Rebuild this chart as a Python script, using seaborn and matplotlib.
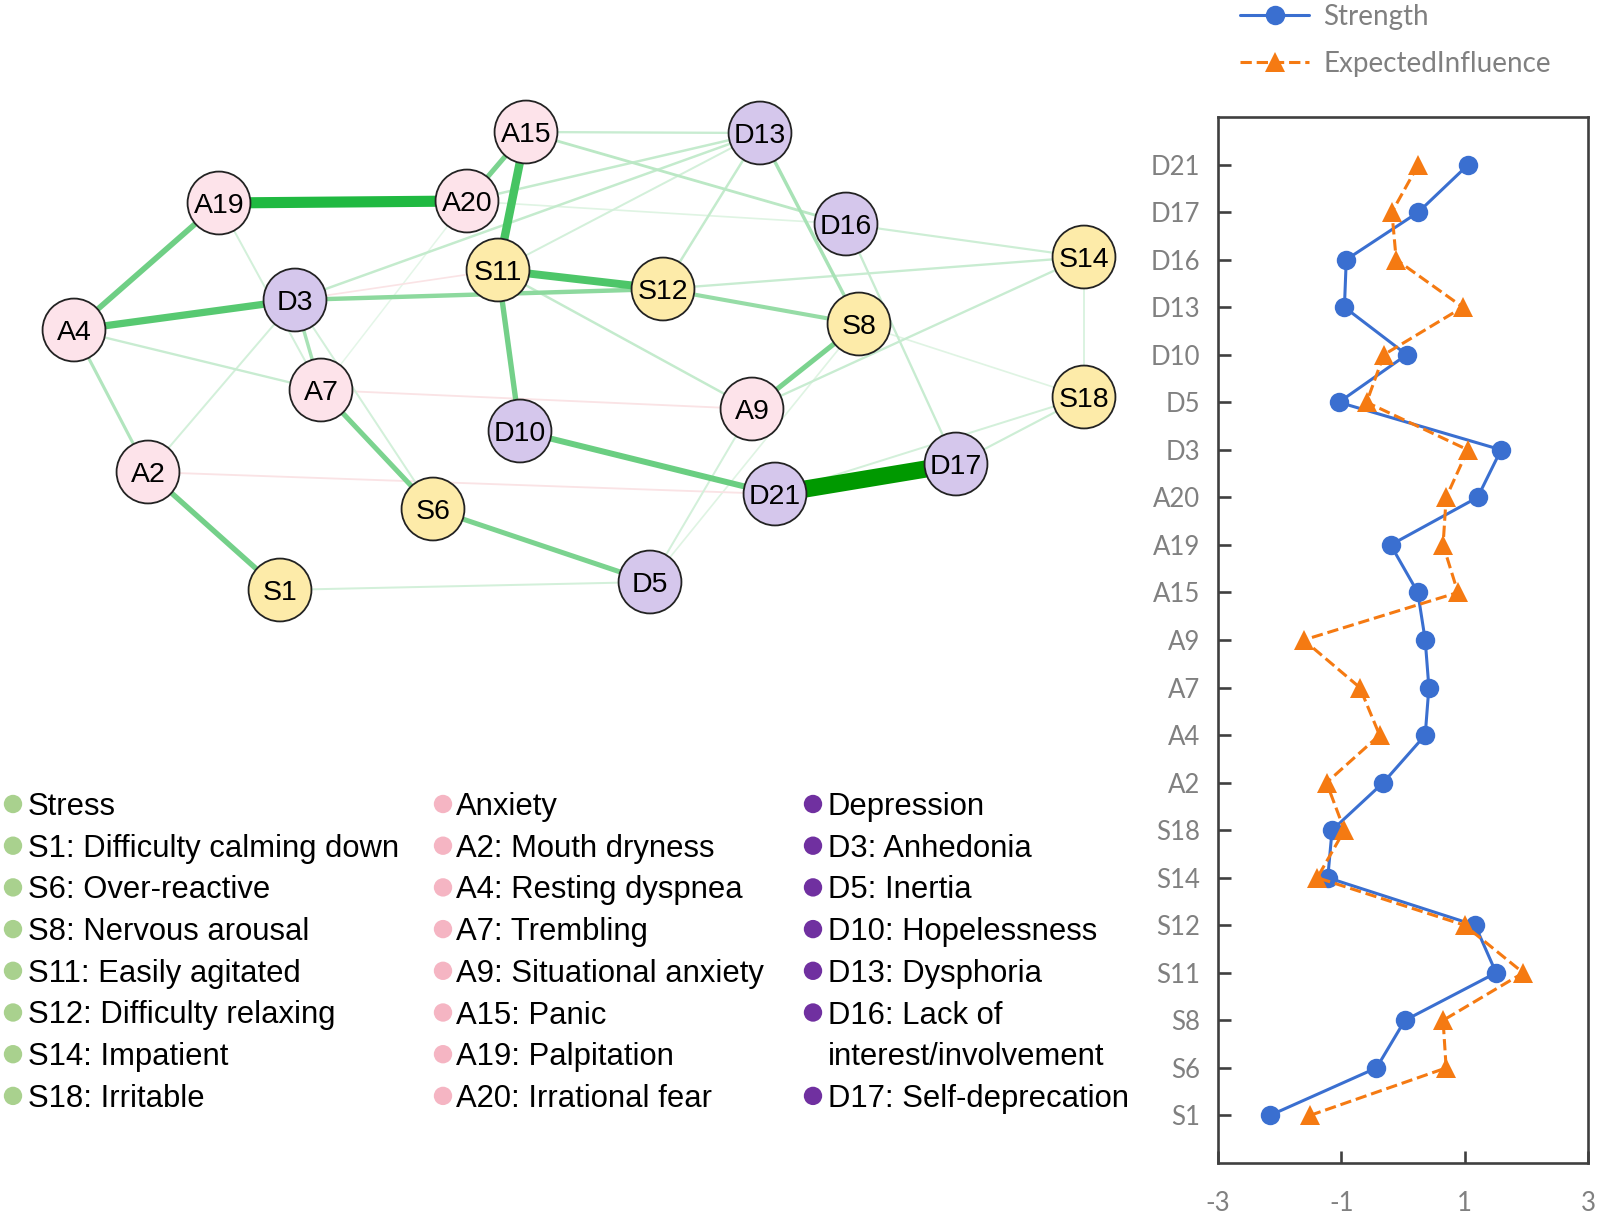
import numpy as np
import pandas as pd
import matplotlib
matplotlib.use("Agg")
import matplotlib.pyplot as plt
import seaborn as sns
from matplotlib.colors import to_rgb

sns.set_theme(style="white")
plt.rcParams['font.family'] = ['Liberation Sans', 'DejaVu Sans']

# ---------------- network data ----------------
node_names = ["A15", "D13", "A19", "A20", "D16", "S11", "S12", "S14", "D3", "A4", "S8",
              "A7", "A9", "S18", "D10", "A2", "D17", "D21", "S6", "S1", "D5"]
node_group = ["Anxiety", "Depression", "Anxiety", "Anxiety", "Depression", "Stress", "Stress",
              "Stress", "Depression", "Anxiety", "Stress", "Anxiety", "Anxiety", "Stress",
              "Depression", "Anxiety", "Depression", "Depression", "Stress", "Stress", "Depression"]
# layout coordinates of the network (pixel space of the figure)
layout_x = [526, 760, 219, 467, 846, 498, 663, 1084, 295, 74, 859,
            321, 752, 1084, 520, 148, 956, 775, 433, 280, 650]
layout_y = [132, 133, 203, 201, 224, 270, 289, 257, 300, 330, 324,
            390, 409, 397, 431, 472, 464, 494, 509, 590, 582]

edge_from = ["D21", "A19", "A15", "S11", "A4", "D10", "A4", "A2", "S11", "A7", "S6", "A9",
             "A15", "D3", "S12", "D13", "D3", "A4", "A15", "A15", "D13", "D13", "D13", "S11",
             "S12", "A9", "D16", "D16", "S14", "S18", "S18", "A19", "A4", "A2", "D3", "A9",
             "S8", "S1", "A20", "S8", "A7", "S11", "A7", "A2", "D3"]
edge_to = ["D17", "A20", "S11", "S12", "D3", "D21", "A19", "S1", "D10", "S6", "D5", "S8",
           "A20", "S12", "S8", "S8", "A7", "A2", "D16", "D13", "A20", "D3", "S12", "A9",
           "S14", "S14", "S14", "D17", "S18", "D17", "D21", "A7", "A7", "D3", "S6", "D5",
           "D5", "D5", "D16", "S18", "A20", "D13", "A9", "D21", "S11"]
edge_weight = [1.00, 0.62, 0.45, 0.42, 0.38, 0.30, 0.28, 0.26, 0.26, 0.24, 0.24, 0.24,
               0.24, 0.20, 0.18, 0.14, 0.14, 0.12, 0.10, 0.07, 0.08, 0.08, 0.08, 0.08,
               0.07, 0.07, 0.06, 0.07, 0.04, 0.06, 0.05, 0.05, 0.07, 0.05, 0.05, 0.05,
               0.03, 0.05, 0.03, 0.03, 0.02, 0.05, -0.04, -0.04, -0.03]

# ---------------- legend text ----------------
stress_items = ["Stress", "S1: Difficulty calming down", "S6: Over-reactive", "S8: Nervous arousal",
                "S11: Easily agitated", "S12: Difficulty relaxing", "S14: Impatient", "S18: Irritable"]
anxiety_items = ["Anxiety", "A2: Mouth dryness", "A4: Resting dyspnea", "A7: Trembling",
                 "A9: Situational anxiety", "A15: Panic", "A19: Palpitation", "A20: Irrational fear"]
depression_items = ["Depression", "D3: Anhedonia", "D5: Inertia", "D10: Hopelessness",
                    "D13: Dysphoria", "D16: Lack of", None, "D17: Self-deprecation"]
depression_wrap = "interest/involvement"

# ---------------- centrality data ----------------
centrality_nodes = ["S1", "S6", "S8", "S11", "S12", "S14", "S18", "A2", "A4", "A7", "A9",
                    "A15", "A19", "A20", "D3", "D5", "D10", "D13", "D16", "D17", "D21"]
strength = [-2.16, -0.43, 0.03, 1.51, 1.17, -1.22, -1.15, -0.32, 0.36, 0.42, 0.36,
            0.24, -0.20, 1.21, 1.59, -1.04, 0.06, -0.95, -0.92, 0.25, 1.06]
expected_influence = [-1.51, 0.70, 0.65, 1.95, 1.00, -1.39, -0.95, -1.24, -0.38, -0.70, -1.61,
                      0.89, 0.65, 0.70, 1.05, -0.59, -0.31, 0.97, -0.11, -0.18, 0.25]
x_ticks = [-3, -1, 1, 3]
x_tick_labels = ["-3", "-1", "1", "3"]

# ---------------- styles ----------------
node_fill = {"Stress": "#FDEBA9", "Anxiety": "#FDE3EA", "Depression": "#D5C7EC"}
legend_dot = {"Stress": "#A9D18E", "Anxiety": "#F5B5C3", "Depression": "#7030A0"}
blue = "#3A6FD0"
orange = "#F57A12"
grey = "#808080"

W, H = 1600, 1218
fig = plt.figure(figsize=(W / 100, H / 100), dpi=100)
ax = fig.add_axes([0, 0, 1, 1])
ax.set_xlim(0, W)
ax.set_ylim(H, 0)
ax.axis("off")

nodes = pd.DataFrame({"name": node_names, "group": node_group, "x": layout_x, "y": layout_y})
pos = {r.name: (r.x, r.y) for r in nodes.itertuples()}

anchor_w = [0.0, 0.06, 0.25, 0.6, 1.0]
anchor_c = np.array([to_rgb(c) for c in ["#f0faf2", "#cdeed5", "#76d18b", "#22bb44", "#009900"]])


def edge_color(w):
    if w < 0:
        return "#fae3e5"
    return tuple(np.interp(w, anchor_w, anchor_c[:, k]) for k in range(3))


edges = pd.DataFrame({"a": edge_from, "b": edge_to, "w": edge_weight})
edges = edges.reindex(edges["w"].abs().sort_values().index)
for e in edges.itertuples():
    (x0, y0), (x1, y1) = pos[e.a], pos[e.b]
    lw_px = 1.2 + 16 * abs(e.w)
    ax.plot([x0, x1], [y0, y1], color=edge_color(e.w), lw=lw_px * 0.72,
            solid_capstyle="butt", zorder=1)

sns.scatterplot(data=nodes, x="x", y="y", hue="group", palette=node_fill, s=2050,
                edgecolor="#222222", linewidth=1.3, legend=False, ax=ax, zorder=3)
for r in nodes.itertuples():
    ax.text(r.x, r.y + 10, r.name, ha="center", va="baseline", fontsize=20.5,
            color="black", zorder=4)

# legend text columns
row_base = 815
row_step = 41.7
columns = [(stress_items, "Stress", 13, 28), (anxiety_items, "Anxiety", 443, 456),
           (depression_items, "Depression", 813, 828)]
for items, grp, dot_x, text_x in columns:
    for i, item in enumerate(items):
        yb = row_base + i * row_step
        if item is None:
            ax.text(text_x, yb, depression_wrap, ha="left", va="baseline", fontsize=22.3,
                    color="black")
            continue
        ax.scatter([dot_x], [yb - 11], s=175, color=legend_dot[grp], edgecolor="none", zorder=3)
        ax.text(text_x, yb, item, ha="left", va="baseline", fontsize=22.3, color="black")

# ---------------- centrality panel ----------------
left, right, top, bottom = 1218, 1588, 117, 1163
ax2 = fig.add_axes([left / W, 1 - bottom / H, (right - left) / W, (bottom - top) / H])
cent = pd.DataFrame({"node": centrality_nodes, "pos": np.arange(len(centrality_nodes)),
                     "Strength": strength, "ExpectedInfluence": expected_influence})
sns.lineplot(data=cent, x="Strength", y="pos", orient="y", sort=False, estimator=None,
             color=blue, lw=2.2, marker="o", markersize=14, markeredgewidth=0,
             label="Strength", ax=ax2, legend=False)
sns.lineplot(data=cent, x="ExpectedInfluence", y="pos", orient="y", sort=False, estimator=None,
             color=orange, lw=2.2, linestyle="--", marker="^", markersize=15, markeredgewidth=0,
             label="ExpectedInfluence", ax=ax2, legend=False)
ax2.set_xlim(-3, 3)
ax2.set_ylim(-1, len(centrality_nodes))
ax2.set_xticks(x_ticks)
ax2.set_xticklabels(x_tick_labels)
ax2.set_yticks(cent["pos"])
ax2.set_yticklabels(cent["node"])
ax2.set_xlabel("")
ax2.set_ylabel("")
for sp in ax2.spines.values():
    sp.set_visible(True)
    sp.set_color("#404040")
    sp.set_linewidth(1.9)
ax2.tick_params(axis="both", direction="in", length=9, width=1.9, color="#404040",
                labelcolor=grey, labelsize=18.5, left=True, bottom=True)
ax2.tick_params(axis="y", pad=13)
ax2.tick_params(axis="x", pad=20)
for lab in ax2.get_xticklabels() + ax2.get_yticklabels():
    lab.set_family(["Lato", "DejaVu Sans"])
ax2.set_facecolor("white")

handles = ax2.get_lines()[:2]
leg = fig.legend(handles, ["Strength", "ExpectedInfluence"], loc="upper left",
                 bbox_to_anchor=(1240 / W, 1 - 4 / H), frameon=False, handlelength=2.5,
                 handletextpad=0.5, labelspacing=0.75, borderpad=0, borderaxespad=0,
                 prop={"family": ["Lato", "DejaVu Sans"], "size": 20})
for t in leg.get_texts():
    t.set_color(grey)

fig.savefig("out.png", dpi=100)
